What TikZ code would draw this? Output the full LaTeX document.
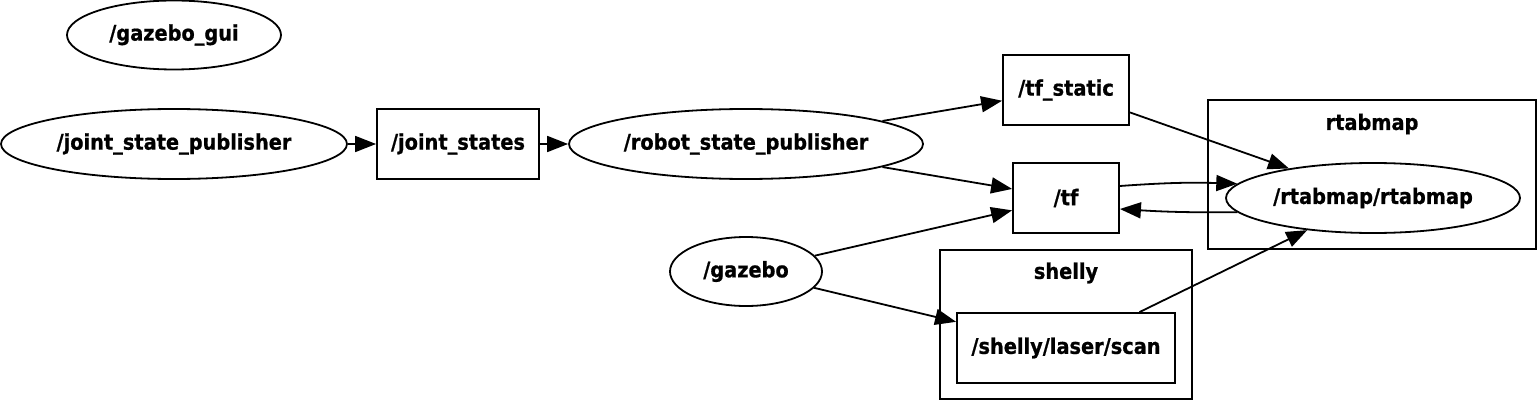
\documentclass[tikz,border=0pt]{standalone}
\usepackage{fontspec}
\newfontfamily\lblfont{DejaVu Sans Condensed Bold}[FakeBold=0.8]
\usetikzlibrary{arrows.meta,shapes.geometric}
\begin{document}
\begin{tikzpicture}[x=1pt,y=-1pt,
  lbl/.style={font=\lblfont\fontsize{21.5}{24}\selectfont, inner sep=0pt},
  ell/.style={lbl, draw, line width=1.8pt, ellipse, inner sep=0pt},
  box/.style={lbl, draw, line width=1.8pt, rectangle, inner sep=0pt},
  cluster/.style={draw, line width=1.8pt, rectangle, inner sep=0pt},
  edge/.style={line width=1.8pt, -{Triangle[length=21pt,width=16pt]}}]
\useasboundingbox (0,0) rectangle (1538,401);
% clusters
\node[cluster, minimum width=328pt, minimum height=149pt] (rtabmapc) at (1372,174.5) {};
\node[lbl] (rtabmapl) at (1372,124) {rtabmap};
\node[cluster, minimum width=252pt, minimum height=149pt] (shellyc) at (1066,324.5) {};
\node[lbl] (shellyl) at (1066,273) {shelly};
% nodes
\node[ell, minimum width=214pt, minimum height=69pt] (gui) at (174,35) {/gazebo\_gui};
\node[ell, minimum width=346pt, minimum height=70pt] (jsp) at (174,144) {/joint\_state\_publisher};
\node[box, minimum width=162pt, minimum height=70pt] (js) at (458,144) {/joint\_states};
\node[ell, minimum width=354pt, minimum height=70pt] (rsp) at (746,144) {/robot\_state\_publisher};
\node[box, minimum width=126pt, minimum height=70pt] (tfs) at (1066,90) {/tf\_static};
\node[box, minimum width=106pt, minimum height=70pt] (tf) at (1066,198) {/tf};
\node[ell, minimum width=152pt, minimum height=69pt] (gz) at (746,271.5) {/gazebo};
\node[box, minimum width=218pt, minimum height=70pt] (scan) at (1066,348) {/shelly/laser/scan};
\node[ell, minimum width=294pt, minimum height=70pt] (rtab) at (1373,198) {/rtabmap/rtabmap};
% edge end points on /tf
\coordinate (tfout) at ([yshift=12pt]tf.east);
\coordinate (tfin) at ([yshift=-11pt]tf.east);
% edges
\draw[edge] (jsp) -- (js);
\draw[edge] (js) -- (rsp);
\draw[edge] (rsp) -- (tfs);
\draw[edge] (rsp) -- (tf);
\draw[edge] (gz) -- (tf);
\draw[edge] (gz) -- (scan);
\draw[edge] (tfs) -- (rtab);
\draw[edge] (tfout) to[bend left=3] (rtab.174);
\draw[edge] (rtab.186) to[bend left=2] (tfin);
\draw[edge] (scan) -- (rtab);
\end{tikzpicture}
\end{document}
